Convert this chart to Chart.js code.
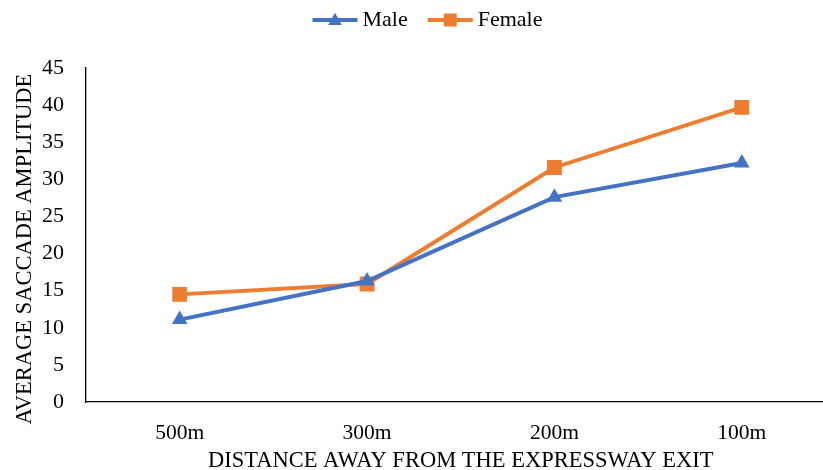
<!DOCTYPE html>
<html><head><meta charset="utf-8">
<script src="https://cdn.jsdelivr.net/npm/chart.js@4"></script>
<style>html,body{margin:0;padding:0;background:#fff;overflow:hidden;width:823px;height:470px}canvas{display:block}</style>
</head><body><canvas id="c" width="846" height="470"></canvas>
<script>
const categories = ["500m", "300m", "200m", "100m"];
const maleValues = [11.1, 16.3, 27.6, 32.2];
const femaleValues = [14.5, 15.9, 31.6, 39.7];
const yTicks = [0, 5, 10, 15, 20, 25, 30, 35, 40, 45];

const FONT = "'Liberation Serif', 'Times New Roman', serif";
const BLUE = "#4472C4", ORANGE = "#ED7D31";

function drawMarker(ctx, style, x, y, r, color) {
  ctx.save();
  ctx.fillStyle = color;
  ctx.beginPath();
  if (style === 'triangle') {
    ctx.moveTo(x, y - r * 1.1);
    ctx.lineTo(x + r * 1.05, y + r * 0.75);
    ctx.lineTo(x - r * 1.05, y + r * 0.75);
    ctx.closePath();
  } else {
    ctx.rect(x - r, y - r, 2 * r, 2 * r);
  }
  ctx.fill();
  ctx.restore();
}

const legendLines = {
  id: 'legendLines',
  beforeUpdate(chart) {
    const lg = chart.legend;
    if (lg && !lg._patchedFit) {
      const orig = lg.fit;
      lg.fit = function () { orig.call(this); this.height = 79; };
      lg._patchedFit = true;
    }
  },
  afterDraw(chart) {
    const lg = chart.legend;
    if (!lg || !lg.legendHitBoxes) return;
    const ctx = chart.ctx;
    lg.legendHitBoxes.forEach((b, i) => {
      const ds = chart.data.datasets[i];
      const cy = b.top + b.height / 2;
      ctx.save();
      ctx.strokeStyle = ds.borderColor;
      ctx.lineWidth = 4;
      ctx.beginPath();
      ctx.moveTo(b.left, cy);
      ctx.lineTo(b.left + 45, cy);
      ctx.stroke();
      ctx.restore();
      drawMarker(ctx, ds.pointStyle, b.left + 22.5, cy, 6.5, ds.borderColor);
    });
  }
};

new Chart(document.getElementById('c'), {
  type: 'line',
  data: {
    labels: categories,
    datasets: [
      { label: 'Male', data: maleValues, borderColor: BLUE, backgroundColor: BLUE,
        borderWidth: 4, pointStyle: 'triangle', pointRadius: 9, pointBorderWidth: 0, tension: 0 },
      { label: 'Female', data: femaleValues, borderColor: ORANGE, backgroundColor: ORANGE,
        borderWidth: 4, pointStyle: 'rect', pointRadius: 10.5, pointBorderWidth: 0, tension: 0 }
    ]
  },
  options: {
    responsive: false,
    maintainAspectRatio: false,
    animation: false,
    devicePixelRatio: 1,
    layout: { padding: { left: 10, right: 1, top: -11, bottom: 0 } },
    plugins: {
      tooltip: { enabled: false },
      legend: {
        position: 'top',
        labels: {
          font: { family: FONT, size: 22 },
          color: '#000',
          boxWidth: 39,
          boxHeight: 14,
          padding: 20,
          generateLabels(chart) {
            return chart.data.datasets.map((d, i) => ({
              text: d.label, fillStyle: 'rgba(0,0,0,0)', strokeStyle: 'rgba(0,0,0,0)',
              lineWidth: 0, datasetIndex: i, fontColor: '#000'
            }));
          }
        }
      }
    },
    scales: {
      x: {
        offset: true,
        afterFit(scale) { scale.height = 68; },
        grid: { display: false, drawTicks: false },
        border: { display: true, color: '#000', width: 1.3 },
        ticks: { font: { family: FONT, size: 21.5 }, color: '#000', padding: 18, maxRotation: 0 },
        title: { display: true, text: 'DISTANCE AWAY FROM THE EXPRESSWAY EXIT',
          font: { family: FONT, size: 22.5, lineHeight: 0.8 }, color: '#000', padding: { top: 0, bottom: 0 } }
      },
      y: {
        min: 0, max: 45,
        afterFit(scale) { scale.width = 76; },
        afterBuildTicks(scale) { scale.ticks = yTicks.map(v => ({ value: v })); },
        grid: { display: false, drawTicks: false },
        border: { display: true, color: '#000', width: 1.3 },
        ticks: { font: { family: FONT, size: 22 }, color: '#000', padding: 22 },
        title: { display: true, text: 'AVERAGE SACCADE AMPLITUDE\u00a0\u00a0\u00a0\u00a0\u00a0',
          font: { family: FONT, size: 22.5 }, color: '#000', padding: { top: 2, bottom: 0 } }
      }
    }
  },
  plugins: [legendLines]
});
</script></body></html>
